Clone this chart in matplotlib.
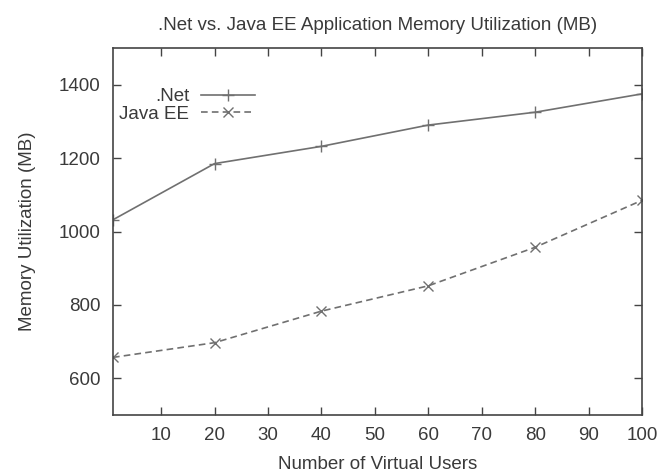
import matplotlib
matplotlib.use('Agg')
import matplotlib.pyplot as plt

plt.rcParams['font.family'] = ['Liberation Sans', 'DejaVu Sans']

users = [1, 20, 40, 60, 80, 100]
net_mem = [1032, 1185, 1232, 1290, 1325, 1375]
java_mem = [657, 697, 783, 852, 957, 1085]
xticks = [10, 20, 30, 40, 50, 60, 70, 80, 90, 100]
yticks = [600, 800, 1000, 1200, 1400]

line_col = '#707070'
text_col = '#3a3a3a'
fs = 13.5

fig = plt.figure(figsize=(6.59, 4.72), dpi=100)
ax = fig.add_axes([113 / 659, 1 - 415 / 472, (642 - 113) / 659, (415 - 48) / 472])

ax.plot(users, net_mem, color=line_col, lw=1.2, marker='+', ms=8, mew=1.0, label='.Net')
ax.plot(users, java_mem, color=line_col, lw=1.2, ls=(0, (4, 2.5)), marker='x', ms=6.5,
        mew=1.0, label='Java EE')

ax.set_xlim(1, 100)
ax.set_ylim(500, 1500)
ax.set_xticks(xticks)
ax.set_yticks(yticks)
ax.tick_params(direction='in', top=True, right=True, length=6, width=1.0,
               color='#444444', labelsize=fs, labelcolor=text_col, pad=9)
for s in ax.spines.values():
    s.set_color('#444444')
    s.set_linewidth(1.2)

ax.set_title('.Net vs. Java EE Application Memory Utilization (MB)', fontsize=fs,
             color=text_col, pad=13)
ax.set_xlabel('Number of Virtual Users', fontsize=fs, color=text_col, labelpad=8)
ax.set_ylabel('Memory Utilization (MB)', fontsize=fs, color=text_col, labelpad=16)

leg = ax.legend(loc='upper left', bbox_to_anchor=(0.012, 0.89), markerfirst=False,
                frameon=False, fontsize=fs, handlelength=2.9, handletextpad=0.6,
                labelspacing=0.0, borderaxespad=0, borderpad=0)
for t in leg.get_texts():
    t.set_color(text_col)
    t.set_ha('right')

fig.savefig('out.png', dpi=100)
